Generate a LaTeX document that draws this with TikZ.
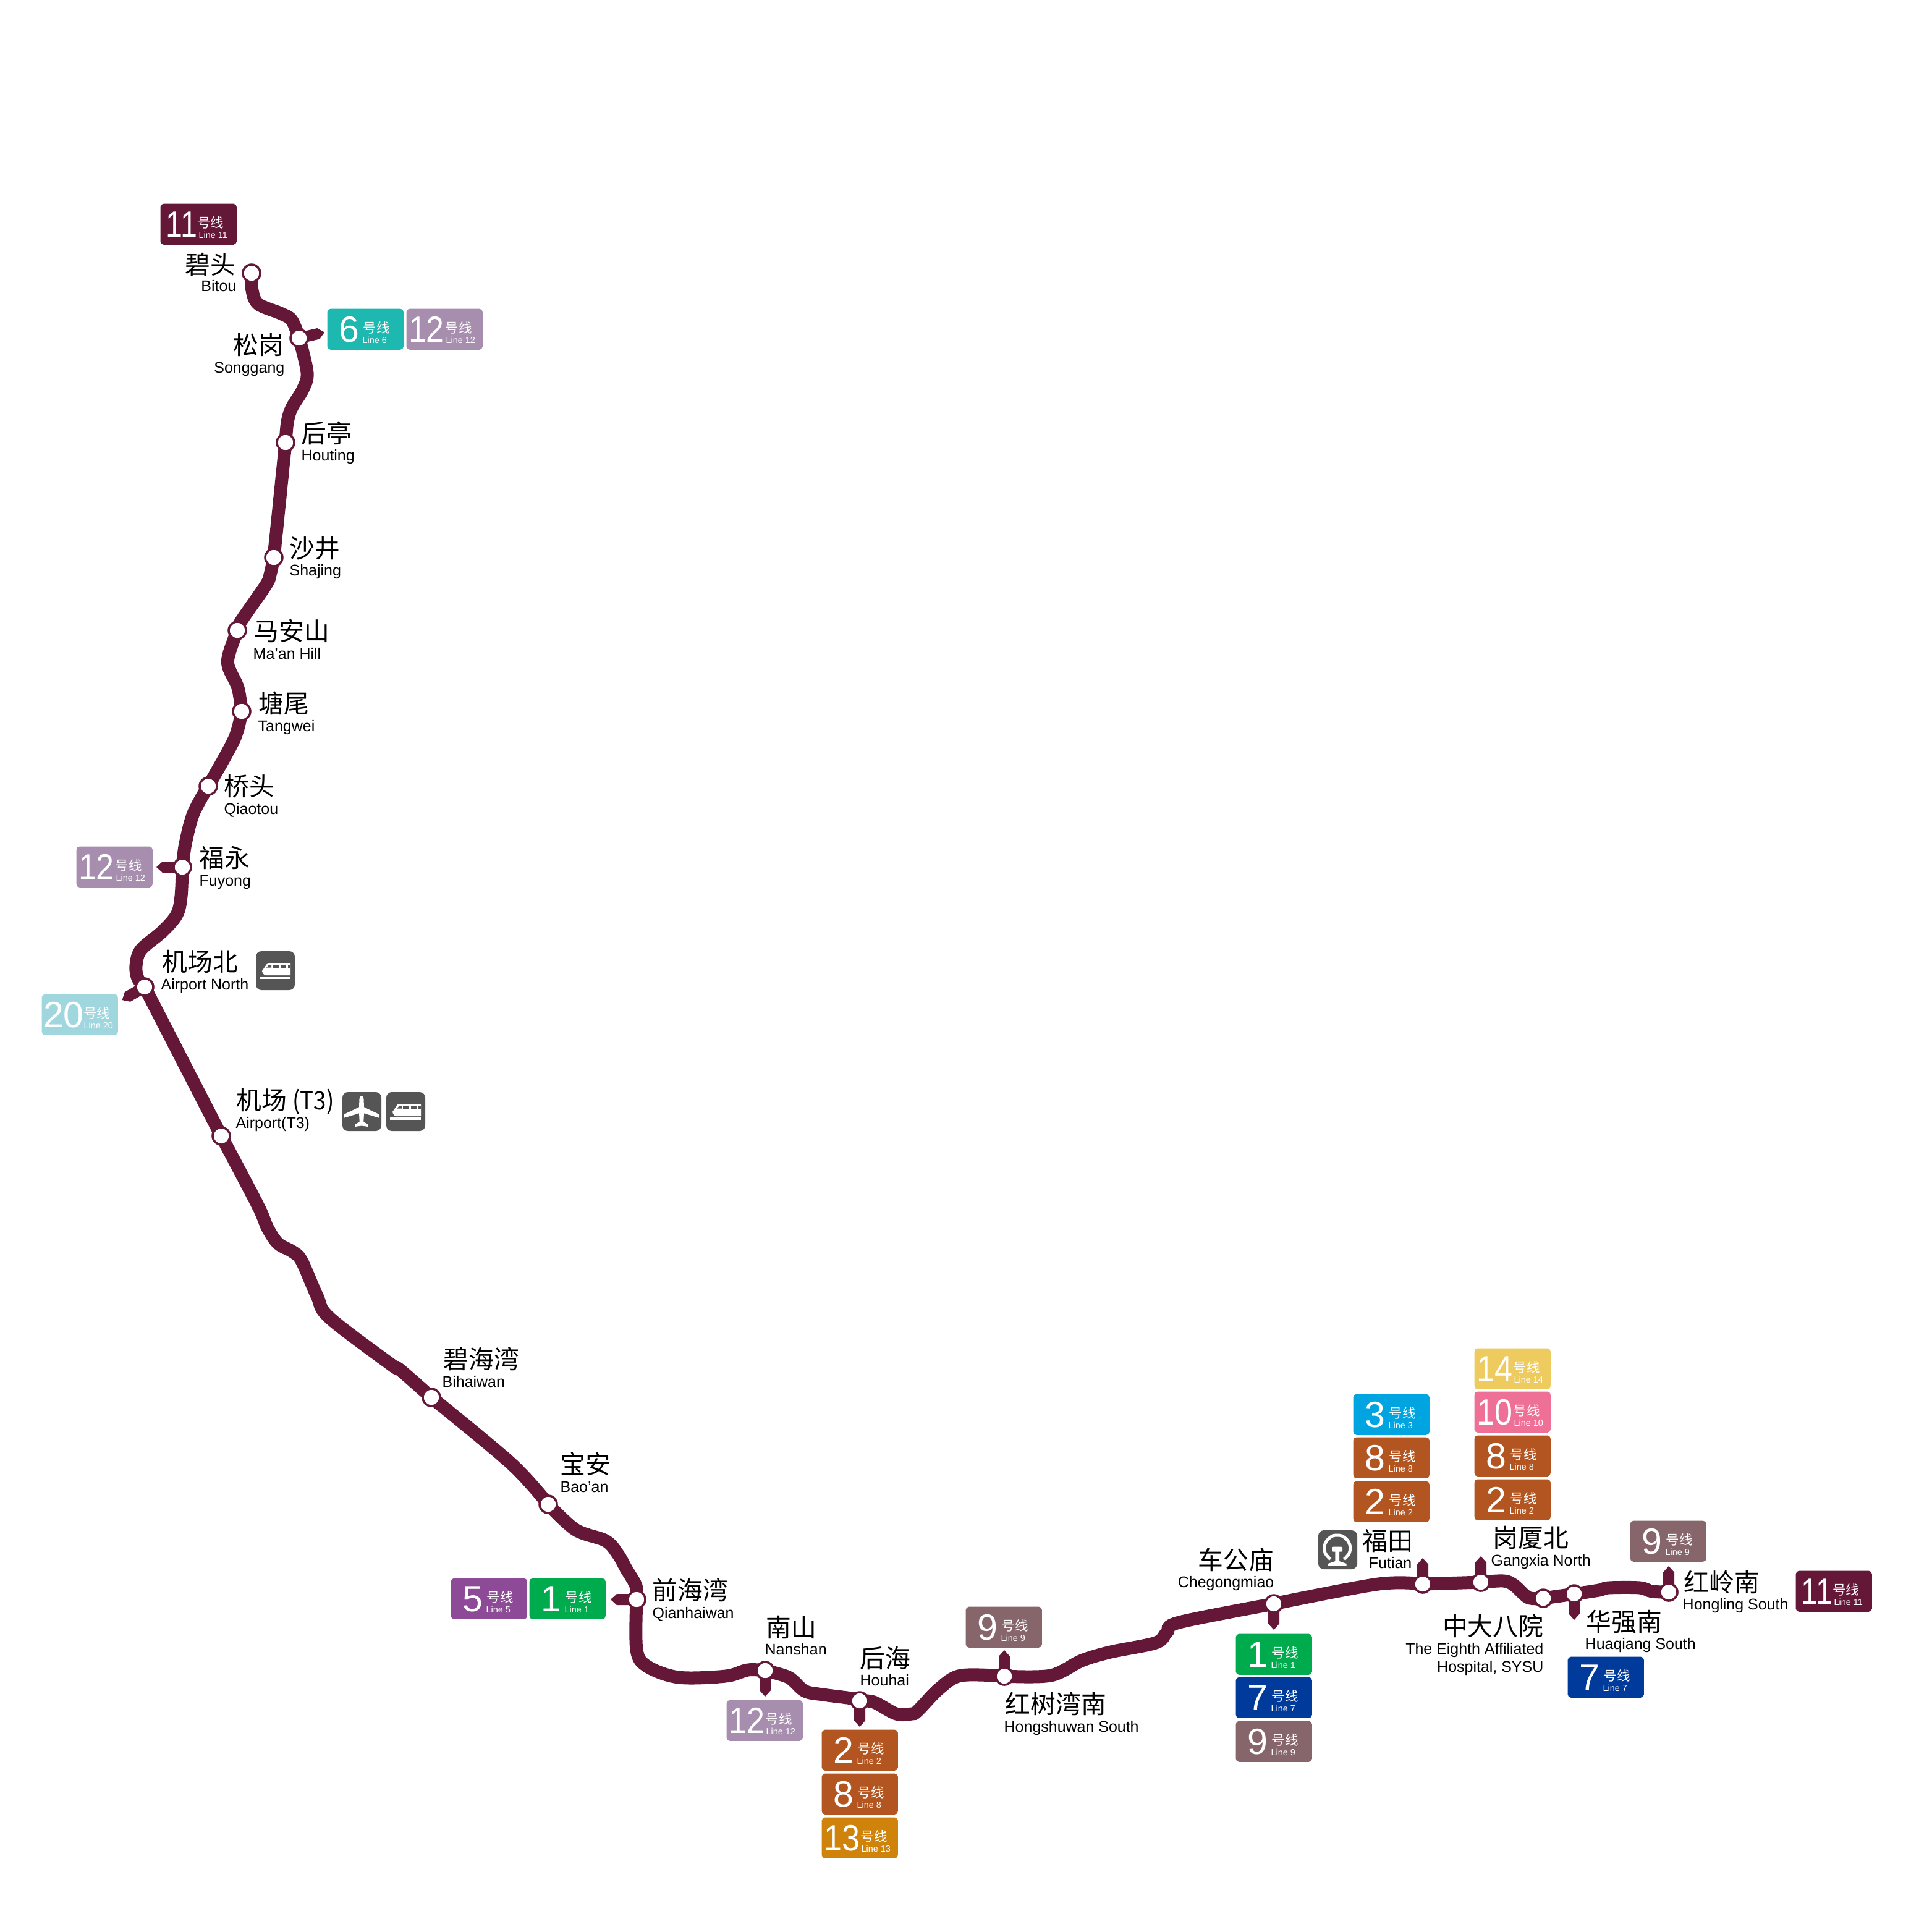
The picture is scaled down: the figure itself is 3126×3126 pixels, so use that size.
\documentclass[tikz,border=0pt]{standalone}
\usepackage{fontspec}
\setmainfont{Liberation Sans}
\newfontfamily\cjk{Noto Sans CJK SC}
\usetikzlibrary{backgrounds}
\definecolor{linexi}{RGB}{101,23,56}
\definecolor{linei}{RGB}{0,171,78}
\definecolor{lineii}{RGB}{179,85,32}
\definecolor{lineiii}{RGB}{0,164,224}
\definecolor{linev}{RGB}{140,74,151}
\definecolor{linevi}{RGB}{29,184,176}
\definecolor{linevii}{RGB}{0,58,155}
\definecolor{lineix}{RGB}{134,101,107}
\definecolor{linex}{RGB}{238,112,150}
\definecolor{linexii}{RGB}{167,142,174}
\definecolor{linexiii}{RGB}{208,131,10}
\definecolor{linexiv}{RGB}{237,203,95}
\definecolor{linexx}{RGB}{160,215,223}
\definecolor{iconc}{RGB}{85,85,85}
\newcommand{\linetag}[5]{%
  \ifnum#5>9 \def\numx{33}\def\haox{85}\def\enx{64}\def\numw{0.88}%
  \else \def\numx{36}\def\haox{80}\def\enx{57}\def\numw{1}\fi
  \ifnum#5=11 \def\numx{35}\def\haox{81.5}\def\enx{62}\def\numw{0.82}\fi
  \ifnum#5=20 \def\numx{36}\def\haox{90}\def\enx{68}\def\numw{1}\fi
  \node[tagbox, fill=#2] (#1) at (#3-1,#4-1) {};
  \node[tagnum] (#1n) at ([shift={(\numx,34)}]#1.north west) {\scalebox{\numw}[1]{#5}};
  \node[taghao] (#1h) at ([shift={(\haox,31.5)}]#1.north west) {号线};
  \node[tagen] (#1e) at ([shift={(\enx,56)}]#1.north west) {Line #5};
}
\begin{document}
\begin{tikzpicture}[x=0.01cm, y=-0.01cm,
    station/.style={circle, draw=linexi, fill=white, line width=0.035cm, minimum size=0.28cm, inner sep=0pt},
    route/.style={draw=linexi, line width=0.21cm, smooth, tension=0.55},
    tagbox/.style={anchor=north west, rounded corners=0.05cm, minimum width=1.23cm, minimum height=0.66cm, inner sep=0pt},
    tagnum/.style={text=white, inner sep=0pt, font=\fontsize{16.8pt}{18pt}\selectfont},
    taghao/.style={text=white, inner sep=0pt, font=\cjk\fontsize{6.1pt}{7pt}\selectfont},
    tagen/.style={text=white, inner sep=0pt, anchor=base west, font=\fontsize{4.1pt}{5pt}\selectfont},
    cnlab/.style={inner sep=0pt, text height=0.36cm, text depth=0.06cm, font=\cjk\fontsize{11.6pt}{13pt}\selectfont},
    enlab/.style={inner sep=0pt, font=\fontsize{7.1pt}{8pt}\selectfont},
    pics/trainicon/.style={code={
      \fill[iconc, rounded corners=0.09cm] (0,0) rectangle (63,63);
      \fill[white] (19,19) -- (56,19) -- (56,39) -- (15.7,39) .. controls (11,37) and (10,34) .. (10,32) -- cycle;
      \fill[iconc] (21,22.4) -- (25,22.4) -- (25,26.7) -- (17,26.7) -- cycle;
      \fill[iconc] (27.3,22.4) rectangle (36.7,26.7);
      \fill[iconc] (39.7,22.4) rectangle (49,26.7);
      \fill[iconc] (52.4,22.4) rectangle (56,26.7);
      \fill[iconc] (11,30.2) rectangle (56,30.9);
      \fill[white] (6.4,41.4) rectangle (56,45.4);}},
    pics/planeicon/.style={code={
      \fill[iconc, rounded corners=0.09cm] (0,0) rectangle (63,63);
      \fill[white] (31,6) .. controls (33,6) and (34.5,8) .. (34.5,11) -- (35,24.3) -- (59.3,36) -- (59.3,41.7)
        -- (35,34.3) -- (34.3,48) -- (41.7,52.7) -- (41.7,56) -- (31,54.5) -- (20.3,56) -- (20.3,52.7)
        -- (27.7,48) -- (27,34.3) -- (2.7,41.7) -- (2.7,36) -- (27,24.3) -- (27.5,11) .. controls (27.5,8) and (29,6) .. (31,6) -- cycle;}},
    pics/railicon/.style={code={
      \fill[iconc, rounded corners=0.09cm] (0,0) rectangle (63,63);
      \draw[white, line width=0.05cm, smooth, tension=0.7] plot coordinates {(19.6,46.8) (11,36.2) (11,21.8) (20.2,10.8) (30.7,8) (41.2,10.8) (50.4,21.8) (50.4,36.2) (41.8,46.8)};
      \fill[white, rounded corners=0.02cm] (22.4,26.7) rectangle (39,34.7);
      \fill[white] (27.4,33) -- (34,33) -- (34,50) -- (45.7,54) -- (45.7,57.4) -- (15.7,57.4) -- (15.7,54) -- (27.4,50) -- cycle;}}]
  \useasboundingbox (0,0) rectangle (3126,3126);

  \node[station] (bitou) at (407,442) {};
  \node[station] (songgang) at (484,547) {};
  \node[station] (houting) at (462,716) {};
  \node[station] (shajing) at (443,902) {};
  \node[station] (maan) at (384,1020) {};
  \node[station] (tangwei) at (391,1151) {};
  \node[station] (qiaotou) at (337,1272) {};
  \node[station] (fuyong) at (295,1403) {};
  \node[station] (airportn) at (234,1597) {};
  \node[station] (airport) at (358,1838) {};
  \node[station] (bihaiwan) at (698,2261) {};
  \node[station] (baoan) at (887,2434) {};
  \node[station] (qianhaiwan) at (1030,2588) {};
  \node[station] (nanshan) at (1238,2703) {};
  \node[station] (houhai) at (1391,2752) {};
  \node[station] (hongshuwan) at (1625,2712) {};
  \node[station] (chegongmiao) at (2061,2595) {};
  \node[station] (futian) at (2302,2563) {};
  \node[station] (gangxia) at (2396,2560) {};
  \node[station] (zhongda) at (2497,2586) {};
  \node[station] (huaqiang) at (2547,2579) {};
  \node[station] (hongling) at (2700,2576) {};

  \begin{pgfonlayer}{background}
    \draw[route] plot coordinates {(bitou.center) (408,470) (418,492) (454,507) (472,518) (484,547)};
    \draw[route] plot coordinates {(songgang.center) (497,603) (490,630) (472,660) (465,683) (houting.center)};
    \draw[route] (houting.center) -- (shajing.center);
    \draw[route] plot coordinates {(shajing.center) (437,930) (430,947) (390,1005) (maan.center)};
    \draw[route] plot coordinates {(maan.center) (370,1060) (370,1080) (385,1113) (tangwei.center)};
    \draw[route] plot coordinates {(tangwei.center) (379,1196) (qiaotou.center)};
    \draw[route] plot coordinates {(qiaotou.center) (313,1316) (300,1365) (fuyong.center)};
    \draw[route] plot coordinates {(fuyong.center) (293,1450) (286,1480) (263,1507) (228,1537) (220,1563) (223,1583) (airportn.center)};
    \draw[route] (airportn.center) -- (airport.center);
    \draw[route] plot coordinates {(airport.center) (417,1950) (433,1987) (450,2012) (473,2025) (488,2040) (513,2097) (533,2132) (633,2208) (648,2217) (bihaiwan.center)};
    \draw[route] plot coordinates {(bihaiwan.center) (827,2368) (baoan.center)};
    \draw[route] plot coordinates {(baoan.center) (931,2475) (980,2493) (1000,2515) (1013,2538) (1029,2566) (qianhaiwan.center)};
    \draw[route] plot coordinates {(qianhaiwan.center) (1030,2669) (1047,2696) (1098,2714) (1174,2712) (1210,2702) (nanshan.center)};
    \draw[route] plot coordinates {(nanshan.center) (1276,2714) (1302,2736) (1332,2742) (1378,2748) (houhai.center)};
    \draw[route] plot coordinates {(houhai.center) (1414,2754) (1450,2773) (1475,2773) (1485,2768) (1520,2732) (1555,2711) (hongshuwan.center)};
    \draw[route] plot coordinates {(hongshuwan.center) (1700,2711) (1750,2687) (1797,2673) (1870,2658) (1888,2641) (1908,2625) (chegongmiao.center)};
    \draw[route] plot coordinates {(chegongmiao.center) (2230,2563) (futian.center)};
    \draw[route] (futian.center) -- (gangxia.center);
    \draw[route] plot coordinates {(gangxia.center) (2433,2558) (2450,2565) (2473,2585) (zhongda.center)};
    \draw[route] (zhongda.center) -- (huaqiang.center);
    \draw[route] plot coordinates {(huaqiang.center) (2587,2573) (2603,2569) (2653,2569) (2673,2575) (hongling.center)};
    \foreach \s/\a in {songgang/13, fuyong/180, airportn/210, qianhaiwan/180, nanshan/-90, houhai/-90,
        hongshuwan/90, chegongmiao/-90, futian/90, gangxia/90, huaqiang/-90, hongling/90}
      \fill[linexi, shift={(\s.center)}, rotate=\a] (0,-9) -- (32,-9) -- (42,0) -- (32,9) -- (0,9) -- cycle;
  \end{pgfonlayer}

  \linetag{tagA}{linexi}{260}{330}{11}
  \linetag{tagB}{linevi}{530}{500}{6}
  \linetag{tagC}{linexii}{658}{500}{12}
  \linetag{tagD}{linexii}{124}{1370}{12}
  \linetag{tagE}{linexx}{68}{1609}{20}
  \linetag{tagF}{linev}{730}{2554}{5}
  \linetag{tagG}{linei}{857}{2554}{1}
  \linetag{tagH}{linexii}{1176}{2751}{12}
  \linetag{tagI}{lineii}{1330}{2799}{2}
  \linetag{tagJ}{lineii}{1330}{2870}{8}
  \linetag{tagK}{linexiii}{1330}{2941}{13}
  \linetag{tagL}{lineix}{1563}{2600}{9}
  \linetag{tagM}{linei}{2000}{2644}{1}
  \linetag{tagN}{linevii}{2000}{2714}{7}
  \linetag{tagO}{lineix}{2000}{2785}{9}
  \linetag{tagP}{lineiii}{2190}{2256}{3}
  \linetag{tagQ}{lineii}{2190}{2326}{8}
  \linetag{tagR}{lineii}{2190}{2397}{2}
  \linetag{tagS}{linexiv}{2386}{2182}{14}
  \linetag{tagT}{linex}{2386}{2252}{10}
  \linetag{tagU}{lineii}{2386}{2323}{8}
  \linetag{tagV}{lineii}{2386}{2394}{2}
  \linetag{tagW}{lineix}{2638}{2461}{9}
  \linetag{tagX}{linexi}{2906}{2542}{11}
  \linetag{tagY}{linevii}{2537}{2681}{7}

  \foreach \n/\t/\x/\y in {bitouC/碧头/382/428, songgangC/松岗/460/558, chegongC/车公庙/2062/2524, zhongdaC/中大八院/2498/2631}
    \node[cnlab, anchor=east] (\n) at (\x,\y) {\t};
  \foreach \n/\t/\x/\y in {futianC/福田/2204/2493, houtingC/后亭/487/701, shajingC/沙井/468/887, maanC/马安山/410/1021,
      tangweiC/塘尾/418/1138, qiaotouC/桥头/362/1272, fuyongC/福永/322/1388, airportnC/机场北/262/1556,
      airportC/机场 \scalebox{.9}[1]{(T3)}/382/1780, bihaiwanC/碧海湾/717/2199, baoanC/宝安/906/2369, qianhaiwanC/前海湾/1055/2573,
      nanshanC/南山/1239/2633, houhaiC/后海/1391/2683, hongshuwanC/红树湾南/1626/2757, gangxiaC/岗厦北/2415/2488,
      huaqiangC/华强南/2566/2624, honglingC/红岭南/2724/2560}
    \node[cnlab, anchor=west] (\n) at (\x,\y) {\t};

  \foreach \n/\t/\x/\y in {bitouE/Bitou/383/471, songgangE/Songgang/461/603, chegongE/Chegongmiao/2062/2568,
      futianE/Futian/2285/2537, zhongdaE/The Eighth Affiliated/2498/2676, zhongdaF/{Hospital, SYSU}/2498/2705}
    \node[enlab, anchor=base east] (\n) at (\x,\y) {\t};
  \foreach \n/\t/\x/\y in {houtingE/Houting/487/745, shajingE/Shajing/468/931, maanE/Ma’an Hill/409/1066,
      tangweiE/Tangwei/417/1183, qiaotouE/Qiaotou/362/1317, fuyongE/Fuyong/322/1433, airportnE/Airport North/260/1601,
      airportE/Airport(T3)/381/1825, bihaiwanE/Bihaiwan/715/2244, baoanE/Bao’an/906/2414, qianhaiwanE/Qianhaiwan/1055/2618,
      nanshanE/Nanshan/1237/2677, houhaiE/Houhai/1391/2727, hongshuwanE/Hongshuwan South/1624/2802,
      gangxiaE/Gangxia North/2412/2533, huaqiangE/Huaqiang South/2564/2668, honglingE/Hongling South/2722/2604}
    \node[enlab, anchor=base west] (\n) at (\x,\y) {\t};

  \pic at (414,1539) {trainicon};
  \pic at (554,1767) {planeicon};
  \pic at (625,1767) {trainicon};
  \pic at (2133,2476) {railicon};
\end{tikzpicture}
\end{document}
